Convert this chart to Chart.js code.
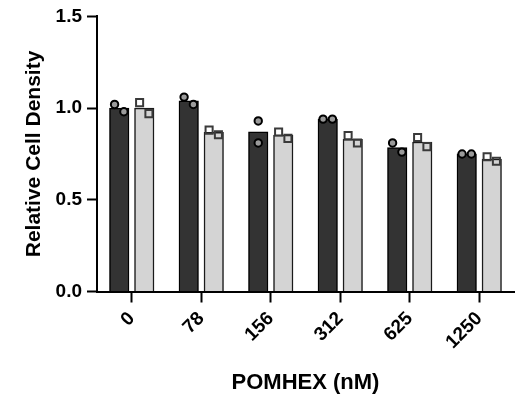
<!DOCTYPE html>
<html>
<head>
<meta charset="utf-8">
<script src="https://cdn.jsdelivr.net/npm/chart.js@4.4.1/dist/chart.umd.min.js"></script>
<style>
  html, body { margin: 0; padding: 0; background: #fff; }
  #wrap { width: 521px; height: 400px; }
</style>
</head>
<body>
<div id="wrap"><canvas id="densityChart"></canvas></div>
<script>
// POMHEX dose (nM) and the two replicate readings per group
const doses = ["0", "78", "156", "312", "625", "1250"];
const darkRepA = [1.02, 1.06, 0.93, 0.94, 0.81, 0.75];
const darkRepB = [0.98, 1.02, 0.81, 0.94, 0.76, 0.75];
const lightRepA = [1.03, 0.88, 0.87, 0.85, 0.84, 0.735];
const lightRepB = [0.97, 0.855, 0.835, 0.81, 0.79, 0.71];
const yTicks = [0, 0.5, 1.0, 1.5];

// group layout, in category units
const SLOT = 0.18;
const JITTER = 0.067;

function barPoints(a, b, shift) {
  return a.map(function (v, i) {
    return { x: i + shift, y: (v + b[i]) / 2 };
  });
}

// points sit over their bar; overlapping pairs get pushed apart sideways
function replicatePoints(a, b, shift) {
  const pts = [];
  a.forEach(function (v, i) {
    const w = b[i];
    const spread = Math.abs(v - w) < 0.07 ? JITTER : 0;
    pts.push({ x: i + shift - spread, y: v });
    pts.push({ x: i + shift + spread, y: w });
  });
  return pts;
}

const font = { family: "'Liberation Sans', Arial, sans-serif", weight: "bold" };

document.addEventListener("DOMContentLoaded", function () {
  const ctx = document.getElementById("densityChart").getContext("2d");

  new Chart(ctx, {
    type: "bar",
    data: {
      datasets: [
        {
          type: "bar",
          data: barPoints(darkRepA, darkRepB, -SLOT),
          backgroundColor: "#333333",
          borderColor: "#000000",
          borderWidth: 1.5,
          barThickness: 19.5,
          grouped: false,
          order: 2,
        },
        {
          type: "bar",
          data: barPoints(lightRepA, lightRepB, SLOT),
          backgroundColor: "#d4d4d4",
          borderColor: "#1a1a1a",
          borderWidth: 1.5,
          barThickness: 19.5,
          grouped: false,
          order: 2,
        },
        {
          type: "scatter",
          data: replicatePoints(darkRepA, darkRepB, -SLOT),
          pointStyle: "circle",
          radius: 3.7,
          backgroundColor: "#9a9a9a",
          borderColor: "#000000",
          borderWidth: 2,
          order: 1,
        },
        {
          type: "scatter",
          data: replicatePoints(lightRepA, lightRepB, SLOT),
          pointStyle: "rect",
          radius: 5,
          backgroundColor: "rgba(0,0,0,0)",
          borderColor: "#3a3a3a",
          borderWidth: 2,
          order: 1,
        },
      ],
    },
    options: {
      responsive: true,
      maintainAspectRatio: false,
      animation: false,
      layout: { padding: { top: 15, right: 6, bottom: 0, left: 0 } },
      plugins: { legend: { display: false }, tooltip: { enabled: false } },
      scales: {
        x: {
          type: "linear",
          offset: false,
          min: -0.5,
          max: doses.length - 0.5,
          afterBuildTicks: function (scale) {
            scale.ticks = doses.map(function (d, i) { return { value: i }; });
          },
          grid: {
            offset: false,
            drawOnChartArea: false,
            tickLength: 11,
            tickWidth: 2,
            tickColor: "#000",
          },
          border: { color: "#000", width: 2 },
          ticks: {
            color: "#000",
            font: Object.assign({ size: 19 }, font),
            minRotation: 45,
            maxRotation: 45,
            padding: 5,
            callback: function (v) { return doses[v]; },
          },
          title: {
            display: true,
            text: "POMHEX (nM)",
            color: "#000",
            font: Object.assign({ size: 22 }, font),
            padding: { top: 0, bottom: 4 },
          },
          afterFit: function (scale) {
            scale.height = 108.5;
          },
        },
        y: {
          min: 0,
          max: 1.5,
          afterBuildTicks: function (scale) {
            scale.ticks = yTicks.map(function (v) { return { value: v }; });
          },
          grid: {
            drawOnChartArea: false,
            tickLength: 10,
            tickWidth: 2,
            tickColor: "#000",
          },
          border: { color: "#000", width: 2 },
          ticks: {
            color: "#000",
            font: Object.assign({ size: 19 }, font),
            padding: 5,
            callback: function (v) { return Number(v).toFixed(1); },
          },
          title: {
            display: true,
            text: "Relative Cell Density",
            color: "#000",
            font: Object.assign({ size: 21 }, font),
            padding: { top: 22, bottom: 0 },
          },
          afterFit: function (scale) {
            scale.width = 97;
          },
        },
      },
    },
  });
});
</script>
</body>
</html>
